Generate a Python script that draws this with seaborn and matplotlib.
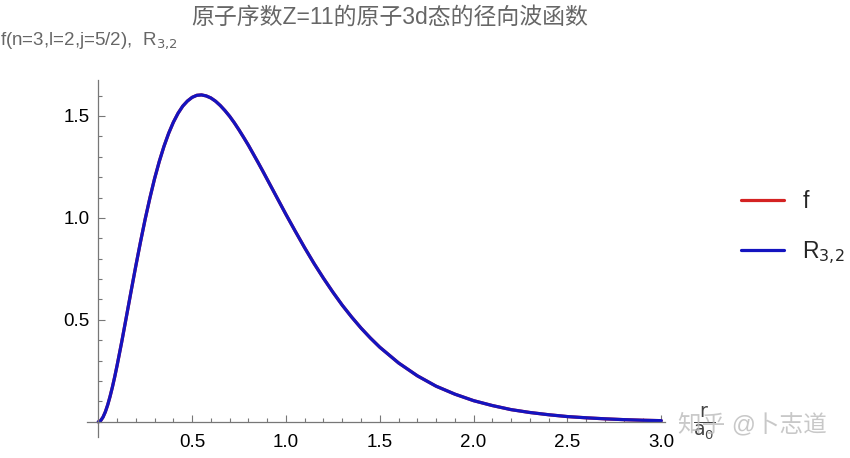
import numpy as np
import pandas as pd
import matplotlib
matplotlib.use("Agg")
import matplotlib.pyplot as plt
from matplotlib.ticker import MultipleLocator, FixedLocator
import seaborn as sns

# radial wave function (r in units of a0)
r_vals = [0.0, 0.0125, 0.025, 0.0375, 0.05, 0.0625, 0.075, 0.0875, 0.1, 0.125,
          0.15, 0.175, 0.2, 0.225, 0.25, 0.275, 0.3, 0.325, 0.35, 0.375,
          0.4, 0.425, 0.45, 0.475, 0.5, 0.525, 0.55, 0.575, 0.6, 0.625,
          0.65, 0.675, 0.7, 0.725, 0.75, 0.775, 0.8, 0.825, 0.85, 0.875,
          0.9, 0.925, 0.95, 0.975, 1.0, 1.05, 1.1, 1.15, 1.2, 1.25,
          1.3, 1.35, 1.4, 1.45, 1.5, 1.6, 1.7, 1.8, 1.9, 2.0,
          2.1, 2.2, 2.3, 2.4, 2.5, 2.6, 2.7, 2.8, 2.9, 3.0]
R_vals = [0.0, 0.006, 0.023, 0.049, 0.083, 0.124, 0.170, 0.221, 0.276, 0.393,
          0.517, 0.642, 0.765, 0.883, 0.995, 1.098, 1.193, 1.277, 1.351, 1.415,
          1.469, 1.513, 1.548, 1.573, 1.591, 1.601, 1.603, 1.598, 1.588, 1.572,
          1.551, 1.526, 1.498, 1.466, 1.431, 1.394, 1.356, 1.315, 1.274, 1.232,
          1.189, 1.146, 1.103, 1.060, 1.017, 0.934, 0.853, 0.776, 0.704, 0.636,
          0.572, 0.514, 0.460, 0.411, 0.366, 0.289, 0.226, 0.175, 0.136, 0.104,
          0.080, 0.060, 0.046, 0.035, 0.026, 0.020, 0.015, 0.011, 0.008, 0.006]
f_vals = R_vals  # f coincides with R_{3,2}

series_names = ["f", r"R$_{3,\!2}$"]
series_colors = ["#d42222", "#1414c0"]

x_major = [0.5, 1.0, 1.5, 2.0, 2.5, 3.0]
y_major = [0.5, 1.0, 1.5]

df = pd.DataFrame({"r": r_vals, "f": f_vals, "R": R_vals})

sns.set_style("ticks")
plt.rcParams["font.family"] = ["Liberation Sans", "Noto Sans CJK SC", "DejaVu Sans"]

fig = plt.figure(figsize=(8.5, 4.58), dpi=100)
ax = fig.add_axes([0.1024, 0.0459, 0.68, 0.7794])

sns.lineplot(data=df, x="r", y="f", color=series_colors[0], lw=2.3, ax=ax,
             label=series_names[0])
sns.lineplot(data=df, x="r", y="R", color=series_colors[1], lw=2.3, ax=ax,
             label=series_names[1])

ax.set_xlim(-0.06, 3.02)
ax.set_ylim(-0.074, 1.676)

for s in ["top", "right"]:
    ax.spines[s].set_visible(False)
ax.spines["left"].set_position(("data", 0))
ax.spines["bottom"].set_position(("data", 0))
for s in ["left", "bottom"]:
    ax.spines[s].set_color("#777777")
    ax.spines[s].set_linewidth(0.9)

ax.xaxis.set_major_locator(FixedLocator(x_major))
ax.yaxis.set_major_locator(FixedLocator(y_major))
ax.xaxis.set_minor_locator(MultipleLocator(0.1))
ax.yaxis.set_minor_locator(MultipleLocator(0.1))
ax.set_xticklabels([f"{v:.1f}" for v in x_major])
ax.set_yticklabels([f"{v:.1f}" for v in y_major])
ax.tick_params(which="both", direction="in", color="#777777", width=0.8,
               labelsize=13.5, labelcolor="black")
ax.tick_params(which="major", length=5)
ax.tick_params(which="minor", length=3)
ax.tick_params(axis="x", pad=9)
ax.tick_params(axis="y", pad=6)
ax.set_xlabel("")
ax.set_ylabel("")

fig.text(0.459, 0.962, "原子序数Z=11的原子3d态的径向波函数", ha="center", va="center",
         fontsize=16.5, color="#666666")
fig.text(0.0, 0.912, r"f(n=3,l=2,j=5/2),  R$_{3,\!2}$", ha="left", va="center",
         fontsize=13.5, color="#666666")
fig.text(0.829, 0.076, r"$\frac{\mathrm{r}}{\mathrm{a}_0}$", ha="center", va="center",
         fontsize=19.5, color="#444444")

leg = ax.legend(loc="center left", bbox_to_anchor=(1.095, 0.585), frameon=False,
                fontsize=16.5, handlelength=1.9, labelspacing=1.15, handletextpad=0.8)
for line in leg.get_lines():
    line.set_linewidth(2.3)

fig.text(0.885, 0.072, "知乎 @卜志道", ha="center", va="center", fontsize=17,
         color="#bbbbbb", alpha=0.8)

fig.savefig("out.png", dpi=100)
